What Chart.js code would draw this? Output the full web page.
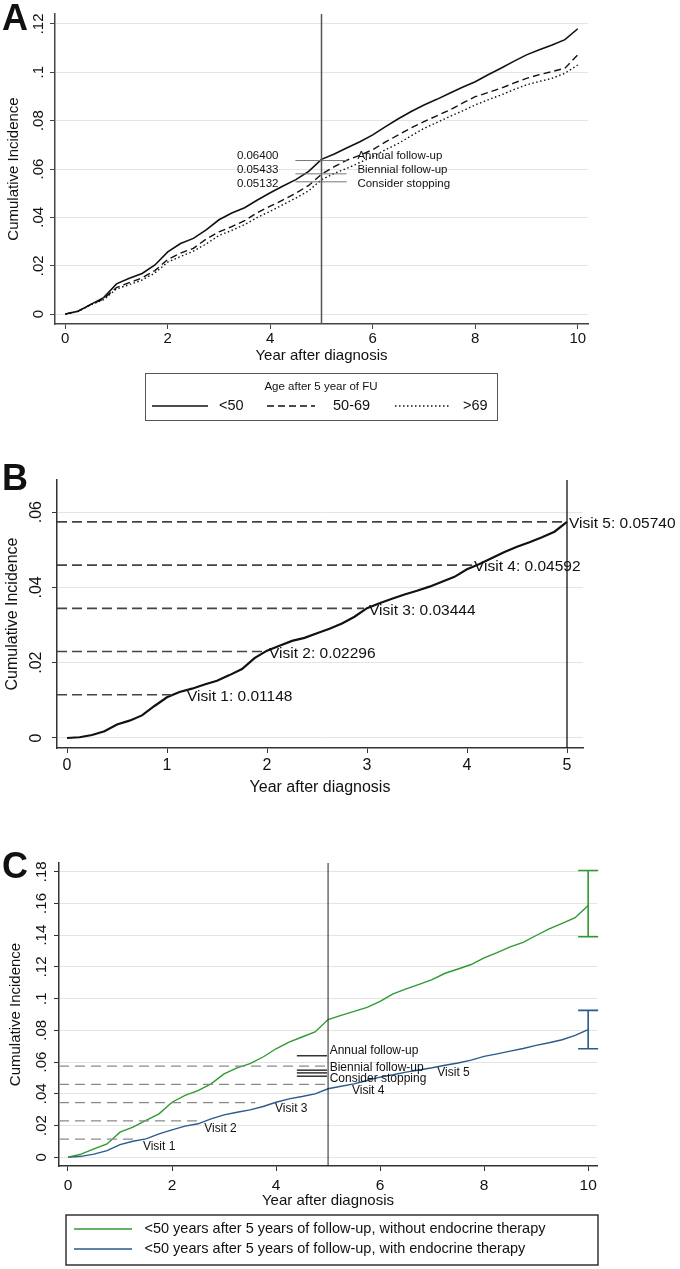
<!DOCTYPE html>
<html>
<head>
<meta charset="utf-8">
<script src="https://cdn.jsdelivr.net/npm/chart.js@4/dist/chart.umd.min.js"></script>
<style>
  html, body { margin: 0; padding: 0; background: #fff; }
  #wrap { position: relative; width: 680px; height: 1269px; overflow: hidden; }
  canvas { position: absolute; left: 0; }
</style>
</head>
<body>
<div id="wrap">
  <canvas id="chartA" width="680" height="430" style="top:0px"></canvas>
  <canvas id="chartB" width="680" height="370" style="top:440px"></canvas>
  <canvas id="chartC" width="680" height="429" style="top:840px"></canvas>
</div>
<script>
const FONT = "'Liberation Sans', Arial, Helvetica, sans-serif";

// ---- Panel A: cumulative incidence by age group, 0-10 years
const yearsA = [0,0.25,0.5,0.75,1,1.25,1.5,1.75,2,2.25,2.5,2.75,3,3.25,3.5,3.75,4,4.25,4.5,4.75,5,
  5.25,5.5,5.75,6,6.25,6.5,6.75,7,7.25,7.5,7.75,8,8.25,8.5,8.75,9,9.25,9.5,9.75,10];
const ciUnder50 = [0,0.0012,0.0040,0.0068,0.0125,0.0148,0.0168,0.0203,0.0257,0.0292,0.0313,0.0348,0.0390,0.0418,0.0440,0.0472,0.0502,0.0530,0.0556,0.0590,0.0640,
  0.0662,0.0688,0.0713,0.0741,0.0775,0.0808,0.0838,0.0865,0.0888,0.0913,0.0938,0.0961,0.0990,0.1017,0.1045,0.1072,0.1093,0.1113,0.1135,0.1180];
const ci50to69 = [0,0.0012,0.0040,0.0063,0.0110,0.0130,0.0150,0.0180,0.0226,0.0252,0.0272,0.0310,0.0340,0.0362,0.0386,0.0420,0.0446,0.0472,0.0500,0.0532,0.0578,
  0.0610,0.0637,0.0657,0.0680,0.0712,0.0741,0.0770,0.0796,0.0820,0.0844,0.0872,0.0899,0.0916,0.0934,0.0955,0.0975,0.0990,0.1003,0.1017,0.1072];
const ciOver69 = [0,0.0011,0.0038,0.0060,0.0104,0.0122,0.0141,0.0170,0.0215,0.0238,0.0260,0.0290,0.0325,0.0346,0.0370,0.0400,0.0425,0.0453,0.0480,0.0510,0.0556,
  0.0582,0.0603,0.0627,0.0651,0.0680,0.0706,0.0737,0.0768,0.0792,0.0817,0.0840,0.0865,0.0886,0.0906,0.0928,0.0948,0.0962,0.0975,0.0996,0.1030];
const ageGroups = ['<50', '50-69', '>69'];
const xTicksA = [0, 2, 4, 6, 8, 10];
const yTicksA = [0, 0.02, 0.04, 0.06, 0.08, 0.1, 0.12];
const followLabels = ['Annual follow-up', 'Biennial follow-up', 'Consider stopping'];
const followValuesA = ['0.06400', '0.05433', '0.05132'];
const followLineYA = [0.0635, 0.0580, 0.0547];
const followTextYA = [0.0654, 0.0595, 0.0537];

// ---- Panel B: <50, 0-5 years, visit thresholds
const yearsB = [0,0.125,0.25,0.375,0.5,0.625,0.75,0.875,1,1.125,1.25,1.375,1.5,1.625,1.75,1.875,2,2.125,2.25,2.375,2.5,
  2.625,2.75,2.875,3,3.125,3.25,3.375,3.5,3.625,3.75,3.875,4,4.125,4.25,4.375,4.5,4.625,4.75,4.875,5];
const ciB = [0,0.0002,0.0008,0.0018,0.0036,0.0046,0.0060,0.0085,0.0108,0.0122,0.0131,0.0142,0.0152,0.0167,0.0183,0.0212,0.0232,0.0245,0.0258,0.0266,0.0278,
  0.0290,0.0304,0.0322,0.0345,0.0358,0.0370,0.0381,0.0391,0.0402,0.0415,0.0428,0.0448,0.0462,0.0478,0.0494,0.0508,0.0520,0.0533,0.0548,0.0574];
const visitNames = ['Visit 1', 'Visit 2', 'Visit 3', 'Visit 4', 'Visit 5'];
const visitValues = [0.01148, 0.02296, 0.03444, 0.04592, 0.05740];
const visitEndB = [1.07, 1.95, 2.97, 4.05, 5.0];
const visitLabelXB = [1.2, 2.02, 3.02, 4.07, 5.02];
const xTicksB = [0, 1, 2, 3, 4, 5];
const yTicksB = [0, 0.02, 0.04, 0.06];

// ---- Panel C: <50 with / without endocrine therapy
const yearsC = yearsA;
const ciNoEndo = [0,0.0020,0.0053,0.0084,0.0158,0.0190,0.0232,0.0274,0.0347,0.0390,0.0420,0.0463,0.0526,0.0564,0.0590,0.0632,0.0684,0.0726,0.0758,0.0790,0.0868,
  0.0895,0.0920,0.0945,0.0983,0.1030,0.1062,0.1090,0.1120,0.1160,0.1187,0.1215,0.1257,0.1290,0.1326,0.1355,0.1398,0.1440,0.1474,0.1510,0.1587];
const ciEndo = [0,0.0006,0.0020,0.0042,0.0080,0.0101,0.0116,0.0147,0.0173,0.0196,0.0211,0.0242,0.0267,0.0284,0.0299,0.0320,0.0347,0.0368,0.0383,0.0400,0.0432,
  0.0448,0.0463,0.0484,0.0505,0.0520,0.0537,0.0550,0.0564,0.0580,0.0594,0.0612,0.0636,0.0652,0.0669,0.0686,0.0705,0.0722,0.0741,0.0768,0.0804];
const barNoEndo = [0.1390, 0.1808];
const barEndo = [0.0684, 0.0926];
const visitEndC = [1.26, 2.53, 3.6, 5.0, 5.0];
const visitLabelXC = [1.44, 2.62, 3.98, 5.46, 7.10];
const visitLabelYC = [0.0065, 0.0181, 0.0307, 0.0418, 0.0532];
const followLineYC = [0.0640, 0.0549, 0.0532, 0.0511];
const followTextYC = [0.0671, 0.0563, 0.0497];
const seriesC = ['<50 years after 5 years of follow-up, without endocrine therapy',
                 '<50 years after 5 years of follow-up, with endocrine therapy'];
const xTicksC = [0, 2, 4, 6, 8, 10];
const yTicksC = [0, 0.02, 0.04, 0.06, 0.08, 0.1, 0.12, 0.14, 0.16, 0.18];

const GREEN = '#2f9a32';
const BLUE = '#2c5a8c';

// helpers
const pts = (xs, ys) => xs.map((x, i) => ({ x: x, y: ys[i] }));
const seg = (x0, x1, y0, y1) => [{ x: x0, y: y0 }, { x: x1, y: y1 === undefined ? y0 : y1 }];
const lineDs = (data, color, width, dash) => ({
  data: data, showLine: true, borderColor: color, borderWidth: width, borderDash: dash || [],
  pointRadius: 0, pointHoverRadius: 0, tension: 0, fill: false
});
const yLabel = v => v === 0 ? '0' : String(+v.toFixed(2)).replace(/^0\./, '.');

function text(ctx, str, x, y, o) {
  ctx.save();
  ctx.font = (o.weight || 'normal') + ' ' + o.size + 'px ' + FONT;
  ctx.fillStyle = o.color || '#111';
  ctx.textAlign = o.align || 'left';
  ctx.textBaseline = o.baseline || 'middle';
  if (o.rotate) {
    ctx.translate(x, y);
    ctx.rotate(o.rotate);
    ctx.fillText(str, 0, 0);
  } else {
    ctx.fillText(str, x, y);
  }
  ctx.restore();
}

function hline(ctx, x0, x1, y, color, width, dash) {
  ctx.save();
  ctx.strokeStyle = color;
  ctx.lineWidth = width;
  ctx.setLineDash(dash || []);
  ctx.beginPath();
  ctx.moveTo(x0, y);
  ctx.lineTo(x1, y);
  ctx.stroke();
  ctx.restore();
}

function stataScales(o) {
  return {
    x: {
      type: 'linear', min: o.xMin, max: o.xMax,
      afterBuildTicks: s => { s.ticks = o.xTicks.map(v => ({ value: v })); },
      afterFit: s => { s.height = o.xHeight; },
      grid: { display: true, drawOnChartArea: false, drawTicks: true, tickLength: 5, tickColor: o.axisColor, tickWidth: 1 },
      border: { display: true, color: o.axisColor, width: o.axisWidth },
      ticks: { color: '#111', font: { family: FONT, size: o.tickSize }, padding: o.xTickPad,
               maxRotation: 0, autoSkip: false, callback: v => String(v) },
      title: { display: true, text: 'Year after diagnosis', color: '#111',
               font: { family: FONT, size: o.titleSize }, padding: { top: 0, bottom: o.xTitlePad } }
    },
    y: {
      type: 'linear', min: o.yMin, max: o.yMax,
      afterBuildTicks: s => { s.ticks = o.yTicks.map(v => ({ value: v })); },
      afterFit: s => { s.width = o.yWidth; },
      grid: { color: '#e4e4e4', lineWidth: 1, drawTicks: true, tickLength: 5, tickColor: o.axisColor },
      border: { display: true, color: o.axisColor, width: o.axisWidth },
      ticks: { display: false },
      title: { display: true, text: 'Cumulative Incidence', color: '#111',
               font: { family: FONT, size: o.titleSize }, padding: { top: o.yTitlePad, bottom: 0 } }
    }
  };
}

function yTickPlugin(ticks, xCenter, size) {
  return {
    id: 'yTickLabels',
    afterDraw(chart) {
      const ys = chart.scales.y;
      ticks.forEach(v => text(chart.ctx, yLabel(v), xCenter, ys.getPixelForValue(v),
        { size: size, align: 'center', rotate: -Math.PI / 2 }));
    }
  };
}

const baseOptions = (scales, padding) => ({
  responsive: false,
  animation: false,
  events: [],
  layout: { padding: padding },
  plugins: { legend: { display: false }, tooltip: { enabled: false } },
  scales: scales
});

// ================= Panel A =================
const yRangeA = [-0.0041, 0.1241];
new Chart(document.getElementById('chartA'), {
  type: 'scatter',
  data: {
    datasets: [
      lineDs(seg(5, 5, yRangeA[0], yRangeA[1]), '#555', 1.5),
      ...followLineYA.map(y => lineDs(seg(4.49, 5.49, y), '#777', 1)),
      lineDs(pts(yearsA, ciOver69), '#111', 1.4, [1.5, 2.5]),
      lineDs(pts(yearsA, ci50to69), '#111', 1.4, [7, 4]),
      lineDs(pts(yearsA, ciUnder50), '#111', 1.6)
    ]
  },
  options: baseOptions(stataScales({
    xMin: -0.2, xMax: 10.2, xTicks: xTicksA, xHeight: 45, xTickPad: 1, xTitlePad: 4,
    yMin: yRangeA[0], yMax: yRangeA[1], yTicks: yTicksA, yWidth: 55, yTitlePad: 5,
    tickSize: 15, titleSize: 15, axisColor: '#444', axisWidth: 1.5
  }), { top: 14, right: 92, bottom: 61, left: 0 }),
  plugins: [yTickPlugin(yTicksA, 39, 15), {
    id: 'panelA',
    afterDraw(chart) {
      const ctx = chart.ctx, xs = chart.scales.x, ys = chart.scales.y;
      text(ctx, 'A', 2, 30, { size: 36, weight: 'bold', baseline: 'alphabetic' });
      followValuesA.forEach((s, i) => text(ctx, s, xs.getPixelForValue(4.16), ys.getPixelForValue(followTextYA[i]),
        { size: 11.5, align: 'right' }));
      followLabels.forEach((s, i) => text(ctx, s, xs.getPixelForValue(5.70), ys.getPixelForValue(followTextYA[i]),
        { size: 11.5 }));
      // legend
      ctx.save();
      ctx.strokeStyle = '#555';
      ctx.lineWidth = 1;
      ctx.strokeRect(145.5, 373.5, 352, 47);
      ctx.restore();
      text(ctx, 'Age after 5 year of FU', 321, 387, { size: 11.5, align: 'center' });
      const styles = [[], [7, 4], [1.5, 2.5]];
      const lx = [[152, 208, 219], [267, 315, 333], [395, 450, 463]];
      ageGroups.forEach((g, i) => {
        hline(ctx, lx[i][0], lx[i][1], 406, '#111', 1.4, styles[i]);
        text(ctx, g, lx[i][2], 406, { size: 14.5 });
      });
    }
  }]
});

// ================= Panel B =================
const yRangeB = [-0.00266, 0.06853];
new Chart(document.getElementById('chartB'), {
  type: 'scatter',
  data: {
    datasets: [
      ...visitValues.map((v, i) => lineDs(seg(-0.1, visitEndB[i], v), '#444', 1.6, [10, 5])),
      lineDs(seg(5, 5, yRangeB[0], yRangeB[1]), '#111', 1.3),
      lineDs(pts(yearsB, ciB), '#111', 2.2)
    ]
  },
  options: baseOptions(stataScales({
    xMin: -0.1, xMax: 5.16, xTicks: xTicksB, xHeight: 50, xTickPad: 3, xTitlePad: 1,
    yMin: yRangeB[0], yMax: yRangeB[1], yTicks: yTicksB, yWidth: 57, yTitlePad: 3,
    tickSize: 16, titleSize: 16, axisColor: '#333', axisWidth: 1.5
  }), { top: 40, right: 97, bottom: 12, left: 0 }),
  plugins: [yTickPlugin(yTicksB, 37, 16), {
    id: 'panelB',
    afterDraw(chart) {
      const ctx = chart.ctx, xs = chart.scales.x, ys = chart.scales.y;
      text(ctx, 'B', 2, 50, { size: 36, weight: 'bold', baseline: 'alphabetic' });
      visitNames.forEach((n, i) => {
        const label = n + ': ' + visitValues[i].toFixed(5);
        text(ctx, label, xs.getPixelForValue(visitLabelXB[i]), ys.getPixelForValue(visitValues[i]) + 2, { size: 15.5 });
      });
    }
  }]
});

// ================= Panel C =================
const yRangeC = [-0.0055, 0.1855];
new Chart(document.getElementById('chartC'), {
  type: 'scatter',
  data: {
    datasets: [
      ...visitValues.map((v, i) => lineDs(seg(-0.173, visitEndC[i], v), '#8a8a8a', 1.3, [10, 6])),
      lineDs(seg(5, 5, yRangeC[0], yRangeC[1]), '#222', 1),
      ...followLineYC.map(y => lineDs(seg(4.4, 4.98, y), '#333', 1.5)),
      lineDs(pts(yearsC, ciNoEndo), GREEN, 1.4),
      lineDs(pts(yearsC, ciEndo), BLUE, 1.4)
    ]
  },
  options: baseOptions(stataScales({
    xMin: -0.173, xMax: 10.17, xTicks: xTicksC, xHeight: 45, xTickPad: 5, xTitlePad: 1,
    yMin: yRangeC[0], yMax: yRangeC[1], yTicks: yTicksC, yWidth: 59, yTitlePad: 7,
    tickSize: 15.5, titleSize: 15, axisColor: '#333', axisWidth: 1.5
  }), { top: 23, right: 83, bottom: 58, left: 0 }),
  plugins: [yTickPlugin(yTicksC, 42, 15), {
    id: 'panelC',
    afterDraw(chart) {
      const ctx = chart.ctx, xs = chart.scales.x, ys = chart.scales.y;
      text(ctx, 'C', 2, 38, { size: 36, weight: 'bold', baseline: 'alphabetic' });
      // error bars at year 10
      [[barNoEndo, GREEN], [barEndo, BLUE]].forEach(([b, c]) => {
        const x = xs.getPixelForValue(10), y0 = ys.getPixelForValue(b[0]), y1 = ys.getPixelForValue(b[1]);
        ctx.save();
        ctx.strokeStyle = c;
        ctx.lineWidth = 1.6;
        ctx.beginPath();
        ctx.moveTo(x, y0); ctx.lineTo(x, y1);
        ctx.moveTo(x - 10, y0); ctx.lineTo(x + 10, y0);
        ctx.moveTo(x - 10, y1); ctx.lineTo(x + 10, y1);
        ctx.stroke();
        ctx.restore();
      });
      visitNames.forEach((n, i) => text(ctx, n, xs.getPixelForValue(visitLabelXC[i]),
        ys.getPixelForValue(visitLabelYC[i]), { size: 12 }));
      followLabels.forEach((s, i) => text(ctx, s, xs.getPixelForValue(5.03),
        ys.getPixelForValue(followTextYC[i]), { size: 12 }));
      // legend
      ctx.save();
      ctx.strokeStyle = '#333';
      ctx.lineWidth = 1.5;
      ctx.strokeRect(66, 375, 532, 50);
      ctx.restore();
      [[GREEN, 389], [BLUE, 409]].forEach(([c, y], i) => {
        hline(ctx, 74, 132, y, c, 1.5);
        text(ctx, seriesC[i], 144.5, y, { size: 14.5 });
      });
    }
  }]
});
</script>
</body>
</html>
